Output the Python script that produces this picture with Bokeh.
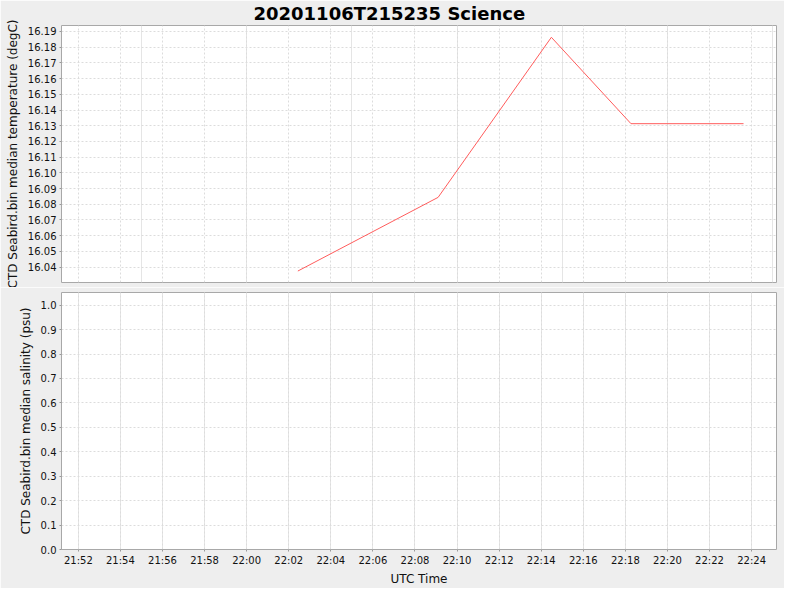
import pandas as pd
from bokeh.plotting import figure
from bokeh import models
from bokeh import layouts
from bokeh.models import Range1d
from bokeh.embed import file_html
from bokeh.resources import INLINE

# Sample day and the chart title.
DATE = "2020-11-06"
TITLE = "20201106T215235 Science"

# Temperature series (UTC time, degC).
TEMP_TIMES = ["22:02:26", "22:09:06", "22:14:29", "22:18:16", "22:23:37"]
TEMP_VALUES = [16.0375, 16.0844, 16.1863, 16.1313, 16.1313]

# Salinity series: empty in the reference.
SAL_TIMES = []
SAL_VALUES = []

# Axis ticks.
TIME_TICKS = ["21:52", "21:54", "21:56", "21:58", "22:00", "22:02", "22:04",
              "22:06", "22:08", "22:10", "22:12", "22:14", "22:16", "22:18",
              "22:20", "22:22", "22:24"]
TEMP_TICKS = [16.04, 16.05, 16.06, 16.07, 16.08, 16.09, 16.10, 16.11,
              16.12, 16.13, 16.14, 16.15, 16.16, 16.17, 16.18, 16.19]
SAL_TICKS = [0.0, 0.1, 0.2, 0.3, 0.4, 0.5, 0.6, 0.7, 0.8, 0.9, 1.0]

X_START, X_END = "21:51:12", "22:25:11"
TEMP_RANGE = (16.0302, 16.1938)
SAL_RANGE = (0.0, 1.052)

FONT = "DejaVu Sans"
GRID_COLOR = "#dcdcdc"
LINE_COLOR = "#ff5c5c"


def to_ms(times):
    return [pd.Timestamp(f"{DATE} {t}").value // 10**6 for t in times]


x_range = Range1d(to_ms([X_START])[0], to_ms([X_END])[0])
x_ticker = models.FixedTicker(ticks=to_ms(TIME_TICKS))


def style(fig, yticks, yfmt, label):
    fig.toolbar.logo = None
    fig.background_fill_color = "white"
    fig.border_fill_color = "#eeeeee"
    fig.outline_line_color = "#a8a8a8"
    fig.yaxis.ticker = models.FixedTicker(ticks=yticks)
    fig.yaxis.formatter = models.NumeralTickFormatter(format=yfmt)
    fig.yaxis.axis_label = label
    for ax in fig.axis:
        ax.axis_line_color = None
        ax.major_tick_in = 0
        ax.major_tick_out = 2
        ax.major_tick_line_color = "#999999"
        ax.minor_tick_line_color = None
        ax.major_label_text_font = FONT
        ax.major_label_text_font_size = "10px"
        ax.major_label_text_color = "#111111"
        ax.major_label_standoff = 3
        ax.axis_label_text_font = FONT
        ax.axis_label_text_font_size = "12px"
        ax.axis_label_text_font_style = "normal"
        ax.axis_label_text_color = "#111111"
        ax.axis_label_standoff = 5
    fig.ygrid.grid_line_color = GRID_COLOR
    fig.ygrid.grid_line_dash = "2 2"
    xgrid = models.Grid(dimension=0, ticker=x_ticker,
                        grid_line_color=GRID_COLOR, grid_line_dash="2 2")
    fig.add_layout(xgrid)


fig1 = figure(
    x_axis_type="datetime", x_range=x_range,
    y_range=Range1d(*TEMP_RANGE),
    x_axis_location=None,
    frame_width=715, frame_height=257,
    min_border_left=61, min_border_right=8,
    min_border_top=25, min_border_bottom=5,
    title=TITLE, tools="", toolbar_location=None,
    output_backend="svg",
)
fig1.title.text_font = FONT
fig1.title.text_font_size = "18px"
fig1.title.text_font_style = "bold"
fig1.title.text_color = "black"
fig1.title.align = "left"
fig1.title.offset = 192
fig1.title.standoff = 2
fig1.title.vertical_align = "middle"
style(fig1, TEMP_TICKS, "0.00", "CTD Seabird.bin median temperature (degC)")
fig1.line(to_ms(TEMP_TIMES), TEMP_VALUES, line_color=LINE_COLOR, line_width=1)

fig2 = figure(
    x_axis_type="datetime", x_range=x_range,
    y_range=Range1d(*SAL_RANGE),
    frame_width=715, frame_height=257,
    min_border_left=61, min_border_right=8,
    min_border_top=5, min_border_bottom=35,
    tools="", toolbar_location=None,
    output_backend="svg",
)
style(fig2, SAL_TICKS, "0.0", "CTD Seabird.bin median salinity (psu)")
fig2.xaxis.ticker = x_ticker
fig2.xaxis.formatter = models.DatetimeTickFormatter(
    minutes="%H:%M", hourmin="%H:%M", hours="%H:%M")
fig2.xaxis.axis_label = "UTC Time"
fig2.xaxis.axis_label_standoff = 3
fig2.line(to_ms(SAL_TIMES), SAL_VALUES, line_color=LINE_COLOR, line_width=1)

p = layouts.column(children=[fig1, fig2], spacing=0)
open("out.html", "w").write(file_html(p, INLINE))
